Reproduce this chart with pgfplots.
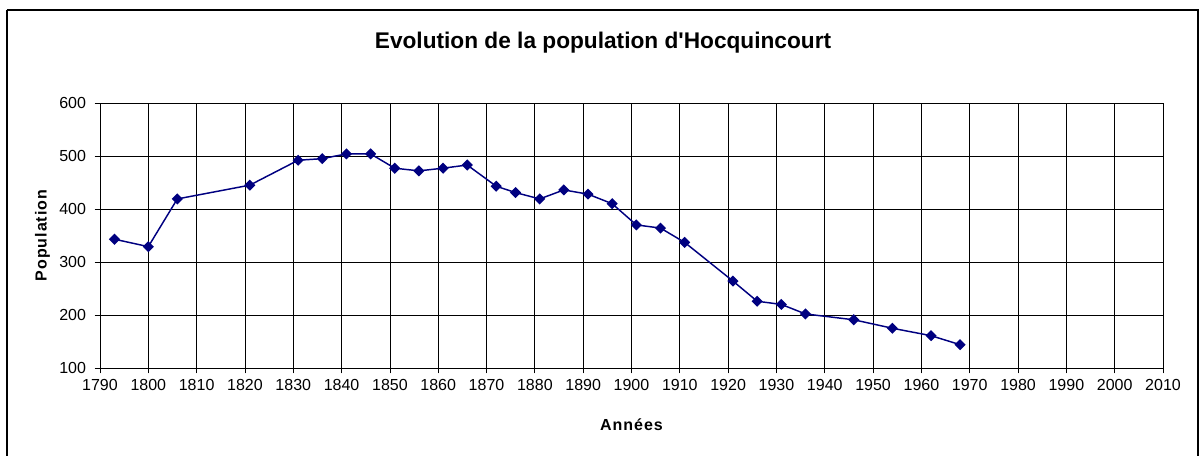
\documentclass[border=0pt]{standalone}
\usepackage{pgfplots}
\pgfplotsset{compat=1.18}
\usepackage{fontspec}
\setmainfont{Liberation Sans}
\definecolor{navyc}{RGB}{0,0,128}
\begin{document}
\begin{tikzpicture}[x=0.75pt,y=0.75pt]
\useasboundingbox (-100,368) rectangle (1099,-87);
\draw[line width=1.1pt] (-93,358) -- (1098,358) -- (1098,-88) (-93,358) -- (-93,-88);
\node[font=\bfseries\fontsize{17}{20}\selectfont] at (503,325) {Evolution de la population d\textquotesingle Hocquincourt};
\begin{axis}[
  at={(0,0)}, anchor=south west,
  scale only axis, width=797.25pt, height=198.75pt,
  xmin=1790, xmax=2010, ymin=100, ymax=600,
  xtick distance=10, ytick distance=100,
  grid=major, major grid style={black, line width=0.6pt},
  axis line style={black, line width=0.7pt},
  tick style={black, line width=0.6pt},
  tick align=outside, major tick length=4pt,
  xtick pos=bottom, ytick pos=left,
  tick label style={font=\fontsize{12}{14}\selectfont},
  /pgf/number format/assume math mode=true,
  /pgf/number format/1000 sep={},
  xticklabel style={yshift=-1pt},
  yticklabel style={xshift=-3pt},
  xlabel={Années}, ylabel={Population},
  label style={font=\bfseries\fontsize{12}{14}\selectfont\addfontfeature{LetterSpace=6}},
  xlabel style={at={(axis description cs:0.5,-0.215)}, anchor=center},
  ylabel style={at={(axis description cs:-0.054,0.5)}, anchor=center},
  clip=false,
]
\addplot[navyc, line width=1.1pt, mark=square*, mark size=2.4pt, mark options={fill=navyc, draw=navyc, rotate=45}] coordinates {
(1793,343) (1800,329) (1806,419) (1821,445) (1831,492) (1836,495) (1841,504) (1846,504)
(1851,477) (1856,472) (1861,477) (1866,483) (1872,443) (1876,431) (1881,419) (1886,436)
(1891,428) (1896,410) (1901,370) (1906,364) (1911,337) (1921,264) (1926,226) (1931,220)
(1936,202) (1946,191) (1954,175) (1962,161) (1968,144)
};
\end{axis}
\end{tikzpicture}
\end{document}
